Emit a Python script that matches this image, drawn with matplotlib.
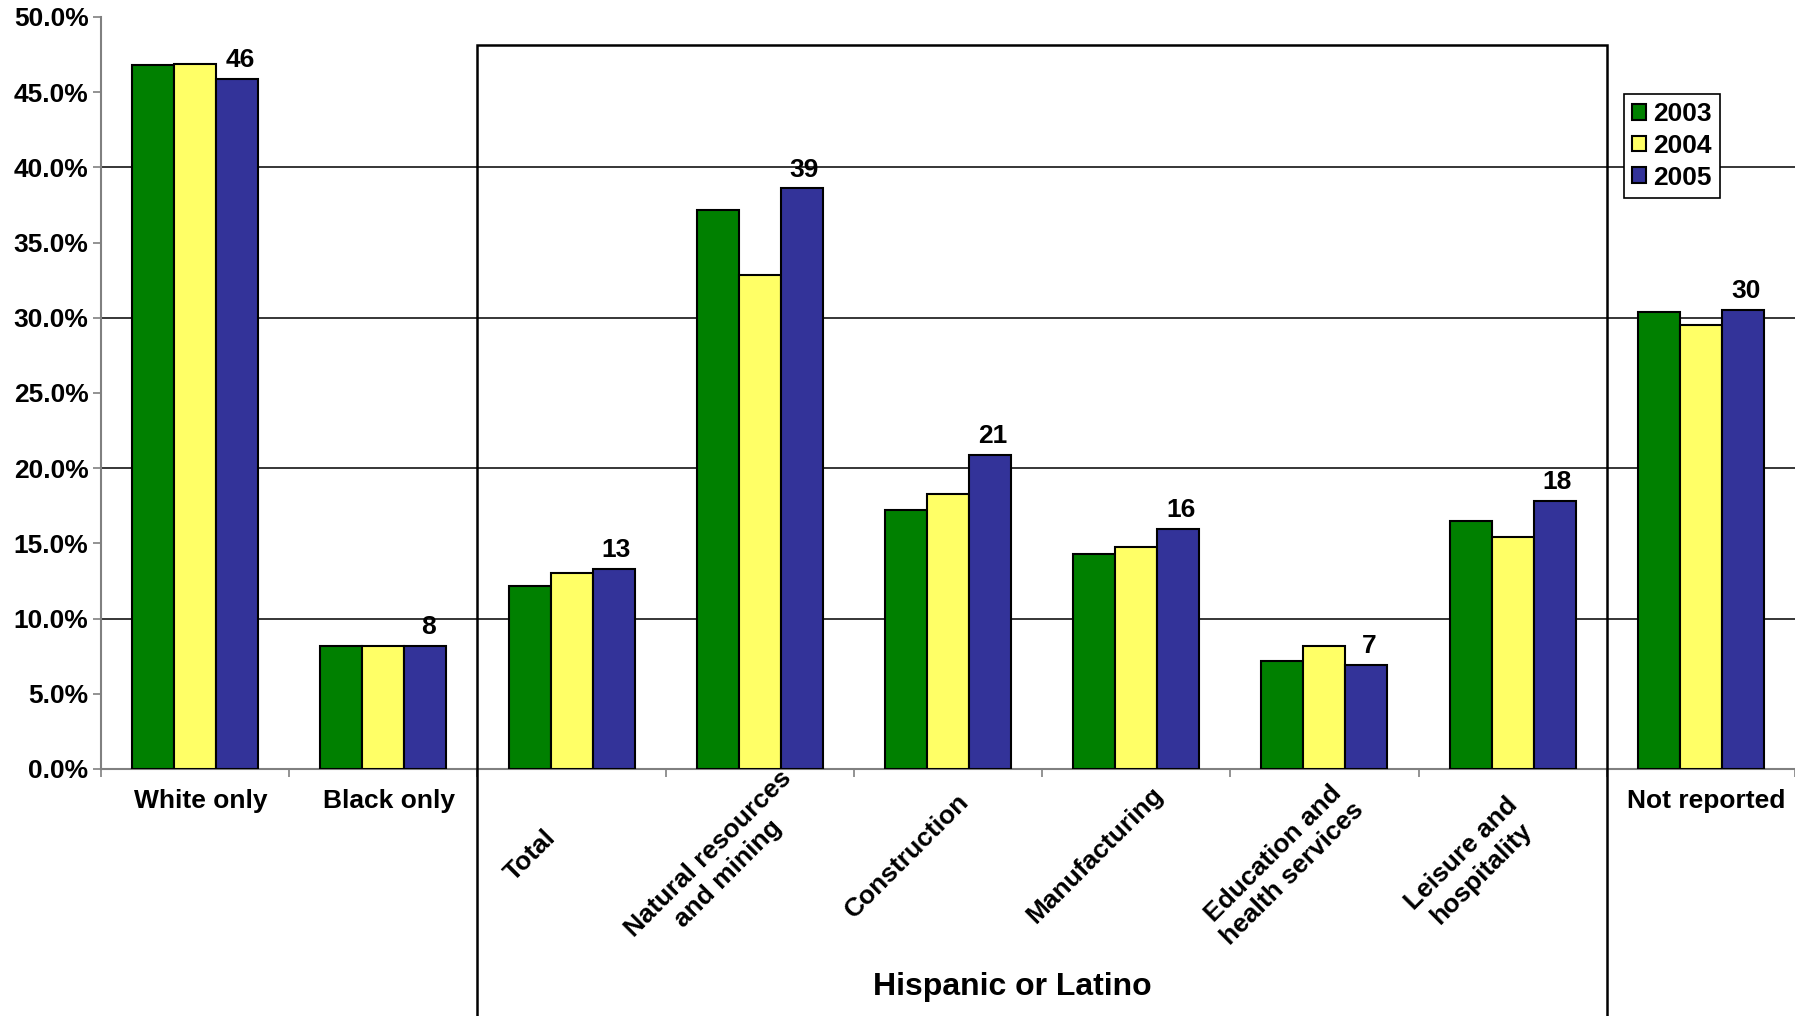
import matplotlib.pyplot as plt
import matplotlib.transforms as mtransforms
from matplotlib.patches import Rectangle

plt.rcParams['font.family'] = ['Liberation Sans', 'DejaVu Sans']
plt.rcParams['font.weight'] = 'bold'

# data (percent)
categories = ['White only', 'Black only', 'Total', 'Natural resources\nand mining',
              'Construction', 'Manufacturing', 'Education and\nhealth services',
              'Leisure and\nhospitality', 'Not reported']
rotated = [False, False, True, True, True, True, True, True, False]
years = ['2003', '2004', '2005']
vals_2003 = [46.8, 8.2, 12.15, 37.2, 17.25, 14.3, 7.2, 16.5, 30.4]
vals_2004 = [46.9, 8.2, 13.05, 32.85, 18.3, 14.75, 8.2, 15.4, 29.5]
vals_2005 = [45.9, 8.2, 13.3, 38.6, 20.9, 15.95, 6.9, 17.8, 30.5]
labels_2005 = ['46', '8', '13', '39', '21', '16', '7', '18', '30']
colors = ['#008000', '#FFFF66', '#333399']

W, H = 1795, 1016
fig = plt.figure(figsize=(W / 100, H / 100), dpi=100)
ax = fig.add_axes([101 / W, 1 - 769 / H, 1 - 101 / W, 752 / H])

x = list(range(len(categories)))
bw = 0.223
for k, (vals, c, yr) in enumerate(zip([vals_2003, vals_2004, vals_2005], colors, years)):
    ax.bar([i + (k - 1) * bw for i in x], vals, bw, color=c, edgecolor='black',
           linewidth=1.5, label=yr, zorder=3)

for i, (v, lab) in enumerate(zip(vals_2005, labels_2005)):
    ax.annotate(lab, (i + bw, v), xytext=(2, 5), textcoords='offset points',
                ha='center', va='bottom', fontsize=19, fontweight='bold', zorder=4)

ax.set_xlim(-0.5, len(categories) - 0.5)
ax.set_ylim(0, 50)
ax.set_yticks([i * 5 for i in range(11)])
ax.set_yticklabels([f'{i * 5:.1f}%' for i in range(11)], fontsize=19, fontweight='bold')
for g in [10, 20, 30, 40]:
    ax.axhline(g, color='black', linewidth=1.1, zorder=1)

ax.set_xticks([i - 0.5 for i in range(len(categories) + 1)])
ax.set_xticklabels([])
ax.tick_params(axis='both', color='#808080', length=6, width=1.2)
ax.tick_params(axis='y', pad=3)
for s in ['top', 'right']:
    ax.spines[s].set_visible(False)
for s in ['left', 'bottom']:
    ax.spines[s].set_color('#808080')
    ax.spines[s].set_linewidth(1.5)

# category labels
tr = mtransforms.blended_transform_factory(ax.transData, ax.transAxes)
for i, (cat, rot) in enumerate(zip(categories, rotated)):
    if rot:
        nlines = cat.count('\n') + 1
        ax.text(i - 0.22, -0.115 - 0.011 * (nlines - 1), cat, transform=tr, rotation=45,
                ha='center', va='center', multialignment='center', fontsize=19,
                fontweight='bold', rotation_mode='anchor')
    else:
        ax.text(i + 0.03, -0.042, cat, transform=tr, ha='center', va='center',
                fontsize=19, fontweight='bold')

# box around the Hispanic or Latino group
box = Rectangle((1.5, -0.5), 6.0, 0.9628 + 0.5, transform=tr, fill=False,
                edgecolor='black', linewidth=1.8, clip_on=False, zorder=5)
ax.add_patch(box)
ax.text(4.34, -0.29, 'Hispanic or Latino', transform=tr, ha='center', va='center',
        fontsize=23, fontweight='bold')

leg = ax.legend(loc='upper left', bbox_to_anchor=(1624 / W, 1 - 94 / H),
                bbox_transform=fig.transFigure, fontsize=19, frameon=True,
                fancybox=False, edgecolor='black', framealpha=1,
                handlelength=0.55, handleheight=0.55, handletextpad=0.25,
                labelspacing=0.3, borderpad=0.3, borderaxespad=0)
leg.get_frame().set_linewidth(1.2)
for t in leg.get_texts():
    t.set_fontweight('bold')

fig.savefig('out.png', dpi=100)
